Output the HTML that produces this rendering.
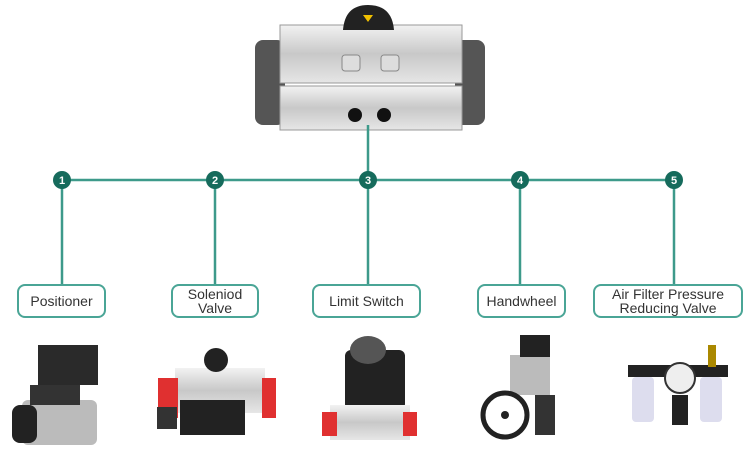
<!DOCTYPE html>
<html><head><meta charset="utf-8"><style>
html,body{margin:0;padding:0;background:#fff;}
body{width:750px;height:454px;overflow:hidden;position:relative;font-family:"Liberation Sans","DejaVu Sans",sans-serif;}
.box{position:absolute;border:2px solid #4aa596;border-radius:8px;background:#fff;color:#333;font-size:14px;text-align:center;box-sizing:border-box;display:flex;align-items:center;justify-content:center;line-height:14px;}
</style></head><body>
<svg width="750" height="454" style="position:absolute;left:0;top:0">
<defs>
<linearGradient id="al" x1="0" y1="0" x2="0" y2="1"><stop offset="0" stop-color="#f2f2f2"/><stop offset="0.5" stop-color="#c8c8c8"/><stop offset="1" stop-color="#e6e6e6"/></linearGradient>
</defs>
<!-- main actuator -->
<rect x="255" y="40" width="30" height="85" rx="8" fill="#555"/>
<rect x="455" y="40" width="30" height="85" rx="8" fill="#555"/>
<rect x="280" y="25" width="182" height="58" fill="url(#al)" stroke="#999"/>
<rect x="280" y="86" width="182" height="44" fill="url(#al)" stroke="#999"/>
<path d="M343 30 Q345 5 368 5 Q392 5 394 30 Z" fill="#222"/>
<polygon points="363,15 373,15 368,22" fill="#f0c000"/>
<rect x="342" y="55" width="18" height="16" rx="3" fill="#ddd" stroke="#888"/>
<rect x="381" y="55" width="18" height="16" rx="3" fill="#ddd" stroke="#888"/>
<circle cx="355" cy="115" r="7" fill="#111"/><circle cx="384" cy="115" r="7" fill="#111"/>
<!-- connectors -->
<g stroke="#3d9a8a" stroke-width="2.5" fill="none">
<line x1="368" y1="125" x2="368" y2="180"/>
<line x1="62" y1="180" x2="675" y2="180"/>
<line x1="62" y1="180" x2="62" y2="285"/>
<line x1="215" y1="180" x2="215" y2="285"/>
<line x1="368" y1="180" x2="368" y2="285"/>
<line x1="520" y1="180" x2="520" y2="285"/>
<line x1="674" y1="180" x2="674" y2="285"/>
</g>
<g fill="#166b5c">
<circle cx="62" cy="180" r="9"/><circle cx="215" cy="180" r="9"/><circle cx="368" cy="180" r="9"/><circle cx="520" cy="180" r="9"/><circle cx="674" cy="180" r="9"/>
</g>
<g fill="#fff" font-size="11" font-weight="bold" text-anchor="middle" font-family="Liberation Sans,sans-serif">
<text x="62" y="184">1</text><text x="215" y="184">2</text><text x="368" y="184">3</text><text x="520" y="184">4</text><text x="674" y="184">5</text>
</g>
<!-- positioner -->
<rect x="38" y="345" width="60" height="40" fill="#2a2a2a"/>
<rect x="22" y="400" width="75" height="45" rx="6" fill="#bbb"/>
<rect x="12" y="405" width="25" height="38" rx="8" fill="#222"/>
<rect x="30" y="385" width="50" height="20" fill="#333"/>
<!-- solenoid -->
<rect x="175" y="368" width="90" height="45" fill="url(#al)"/>
<rect x="158" y="378" width="20" height="40" fill="#e03030"/>
<rect x="262" y="378" width="14" height="40" fill="#e03030"/>
<circle cx="216" cy="360" r="12" fill="#222"/>
<rect x="180" y="400" width="65" height="35" fill="#222"/>
<rect x="157" y="407" width="20" height="22" fill="#333"/>
<!-- limit switch -->
<rect x="345" y="350" width="60" height="60" rx="6" fill="#222"/>
<ellipse cx="368" cy="350" rx="18" ry="14" fill="#555"/>
<rect x="330" y="405" width="80" height="35" fill="url(#al)"/>
<rect x="322" y="412" width="15" height="24" fill="#e03030"/>
<rect x="403" y="412" width="14" height="24" fill="#e03030"/>
<!-- handwheel -->
<rect x="510" y="355" width="40" height="40" fill="#bbb"/>
<rect x="520" y="335" width="30" height="22" fill="#222"/>
<circle cx="505" cy="415" r="22" fill="none" stroke="#222" stroke-width="5"/>
<circle cx="505" cy="415" r="4" fill="#222"/>
<rect x="535" y="395" width="20" height="40" fill="#333"/>
<!-- filter -->
<rect x="628" y="365" width="100" height="12" fill="#222"/>
<circle cx="680" cy="378" r="15" fill="#eee" stroke="#333" stroke-width="2"/>
<rect x="632" y="377" width="22" height="45" rx="4" fill="#dde"/>
<rect x="700" y="377" width="22" height="45" rx="4" fill="#dde"/>
<rect x="672" y="395" width="16" height="30" fill="#222"/>
<rect x="708" y="345" width="8" height="22" fill="#a80"/>
</svg>
<div class="box" style="left:17px;top:284px;width:89px;height:34px;">Positioner</div>
<div class="box" style="left:171px;top:284px;width:88px;height:34px;">Soleniod<br>Valve</div>
<div class="box" style="left:312px;top:284px;width:109px;height:34px;">Limit Switch</div>
<div class="box" style="left:477px;top:284px;width:89px;height:34px;">Handwheel</div>
<div class="box" style="left:593px;top:284px;width:150px;height:34px;">Air Filter Pressure<br>Reducing Valve</div>
</body></html>
